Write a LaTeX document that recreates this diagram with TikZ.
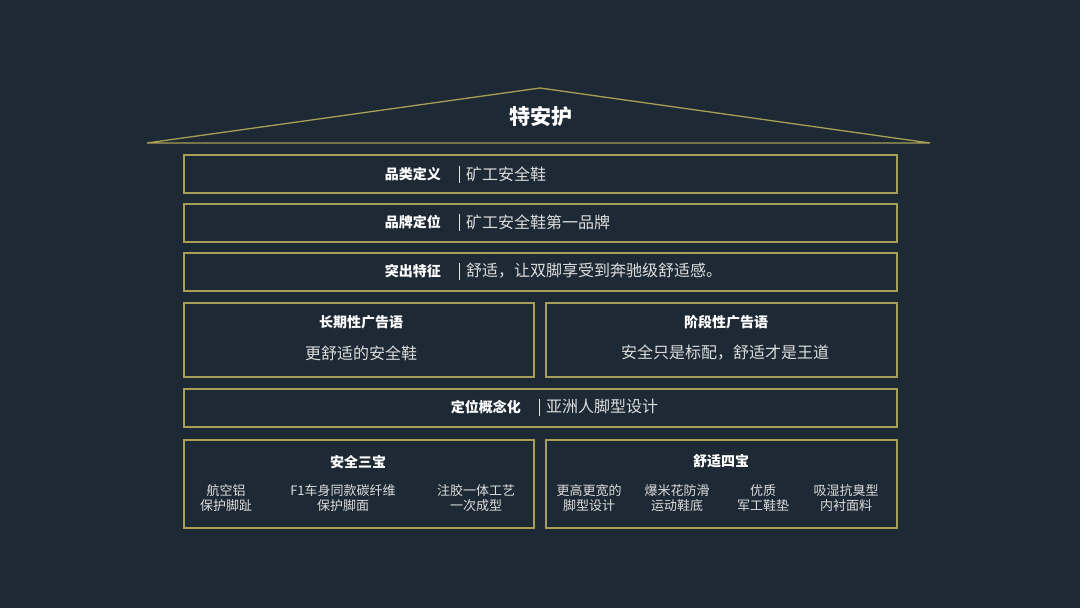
\documentclass[tikz,border=0pt]{standalone}
\usepackage{fontspec}
\setmainfont{Noto Sans CJK SC}
\newfontfamily\cjk{Noto Sans CJK SC}
\definecolor{bg}{HTML}{1D2A35}
\definecolor{gold}{HTML}{A89E55}
\definecolor{txt}{HTML}{DCDCDC}
\tikzset{
  box/.style={draw=gold, line width=1.3pt},
  head/.style={font=\cjk\bfseries\fontsize{14}{16}\selectfont, text=white, inner sep=0pt},
  body/.style={font=\cjk\fontsize{16}{18}\selectfont, text=txt, inner sep=0pt},
  item/.style={font=\cjk\fontsize{13}{15.5}\selectfont, text=txt, inner sep=0pt, align=center},
  bar/.style={draw=txt!80, line width=0.6pt}
}
\begin{document}
\begin{tikzpicture}[x=1pt,y=-1pt]
\useasboundingbox (0,0) rectangle (1080,608);
\fill[bg] (0,0) rectangle (1080,608);
% roof
\coordinate (rl) at (147,143);
\coordinate (rt) at (540,88);
\coordinate (rr) at (930,143);
\draw[gold, line width=1.3pt, line join=miter] (rl) -- (rt) -- (rr) -- cycle;
\node[font=\cjk\bfseries\fontsize{21}{24}\selectfont, text=white, inner sep=0pt] (title) at (541,117) {特安护};
% rows
\draw[box] (184,155) rectangle (897,193);
\node[head, anchor=east] (l1) at (441,174) {品类定义};
\draw[bar] (459,166) -- (459,183);
\node[body, anchor=west] (t1) at (466,174) {矿工安全鞋};
\draw[box] (184,204) rectangle (897,242);
\node[head, anchor=east] (l2) at (441,222) {品牌定位};
\draw[bar] (459,214) -- (459,231);
\node[body, anchor=west] (t2) at (466,222) {矿工安全鞋第一品牌};
\draw[box] (184,253) rectangle (897,291);
\node[head, anchor=east] (l3) at (441,271) {突出特征};
\draw[bar] (459,263) -- (459,280);
\node[body, anchor=west] (t3) at (466,271) {舒适，让双脚享受到奔驰级舒适感。};
% slogans
\draw[box] (184,303) rectangle (534,377);
\draw[box] (546,303) rectangle (897,377);
\node[head] (s1h) at (361,322) {长期性广告语};
\node[body] (s1b) at (361,353) {更舒适的安全鞋};
\node[head] (s2h) at (726,322) {阶段性广告语};
\node[body] (s2b) at (725,353) {安全只是标配，舒适才是王道};
% concept
\draw[box] (184,389) rectangle (897,427);
\node[head, anchor=east] (l5) at (521,407) {定位概念化};
\draw[bar] (539,399) -- (539,416);
\node[body, anchor=west] (t5) at (546,406) {亚洲人脚型设计};
% treasures
\draw[box] (184,440) rectangle (534,528);
\draw[box] (546,440) rectangle (897,528);
\node[head] (h6a) at (358,462) {安全三宝};
\node[item] (a1) at (226,498) {航空铝\\保护脚趾};
\node[item] (a2) at (343,498) {F1车身同款碳纤维\\保护脚面};
\node[item] (a3) at (476,498) {注胶一体工艺\\一次成型};
\node[head] (h6b) at (721,461) {舒适四宝};
\node[item] (b1) at (589,498) {更高更宽的\\脚型设计};
\node[item] (b2) at (677,498) {爆米花防滑\\运动鞋底};
\node[item] (b3) at (763,498) {优质\\军工鞋垫};
\node[item] (b4) at (846,498) {吸湿抗臭型\\内衬面料};
\end{tikzpicture}
\end{document}
